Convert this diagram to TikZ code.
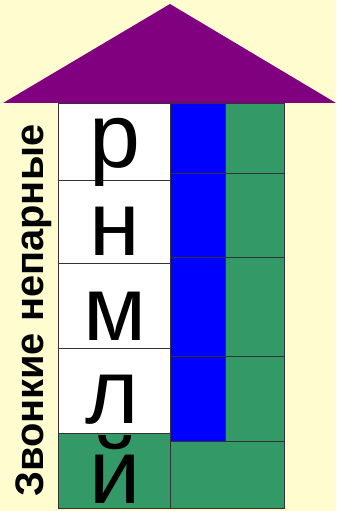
\documentclass[tikz,border=0pt]{standalone}
\usepackage{fontspec}
\setmainfont{Liberation Sans}
\definecolor{bg}{RGB}{255,253,208}
\definecolor{roof}{RGB}{128,0,128}
\definecolor{grn}{RGB}{51,153,102}
\definecolor{blu}{RGB}{0,0,255}
\begin{document}
\begin{tikzpicture}[x=1bp,y=-1bp,
  grid/.style={draw=black!80,line width=0.8bp},
  letter/.style={font=\fontsize{92}{92}\selectfont, inner sep=0, anchor=base}]
\fill[bg] (0,0) rectangle (336,511);
\useasboundingbox (0,0) rectangle (336,511);
% cells
\fill[white] (58,103) rectangle (170,433);
\fill[grn] (58,433) rectangle (170,508);
\fill[blu] (170,103) rectangle (225,441);
\fill[grn] (225,103) rectangle (284,441);
\fill[grn] (170,441) rectangle (284,508);
% grid lines
\draw[grid] (58,103) rectangle (284,508);
\foreach \yy in {180,263,348,433} \draw[grid] (58,\yy) -- (170,\yy);
\foreach \yy in {173,257,356,441} \draw[grid] (170,\yy) -- (284,\yy);
\draw[grid] (170,103) -- (170,508);
\draw[grid] (225,103) -- (225,441);
% roof
\fill[roof] (3,103) -- (170,4) -- (336,103) -- cycle;
% letters
\node[letter] (r) at (115,168) {р};
\node[letter] (n) at (115,255) {н};
\node[letter] (m) at (115,340) {м};
\node[letter] (l) at (112,423) {л};
\node[letter] (j) at (115,503) {й};
% side label
\node[rotate=90, anchor=base west, inner sep=0,
  font=\bfseries\fontsize{40}{40}\selectfont] (lab) at (43,497) {Звонкие непарные};
\end{tikzpicture}
\end{document}
